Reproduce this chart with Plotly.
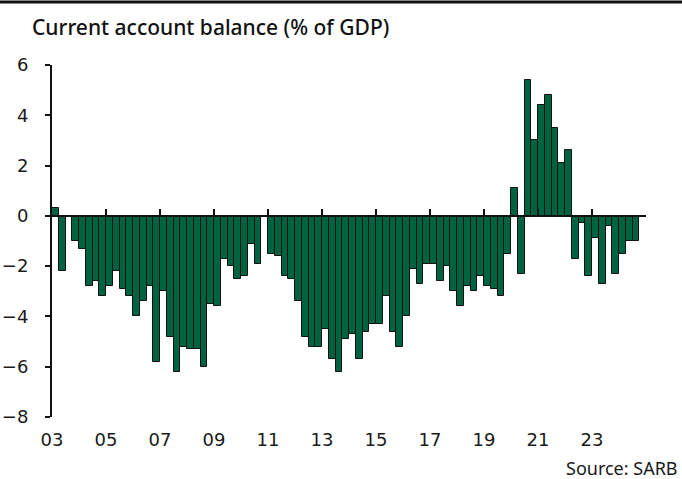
import plotly.graph_objects as go

# Quarterly current account balance, % of GDP, 2003Q1 .. 2024Q3
start_year = 2003
values = [
    0.3, -2.2, 0.0, -1.0,      # 2003
    -1.3, -2.8, -2.6, -3.2,    # 2004
    -2.8, -2.2, -2.9, -3.2,    # 2005
    -4.0, -3.4, -2.8, -5.8,    # 2006
    -3.0, -4.8, -6.2, -5.2,    # 2007
    -5.3, -5.3, -6.0, -3.5,    # 2008
    -3.6, -1.7, -2.0, -2.5,    # 2009
    -2.4, -1.1, -1.9, 0.0,     # 2010
    -1.5, -1.6, -2.4, -2.5,    # 2011
    -3.4, -4.8, -5.2, -5.2,    # 2012
    -4.5, -5.7, -6.2, -4.9,    # 2013
    -4.7, -5.7, -4.6, -4.3,    # 2014
    -4.3, -3.2, -4.6, -5.2,    # 2015
    -4.0, -2.1, -2.7, -1.9,    # 2016
    -1.9, -2.6, -2.0, -3.0,    # 2017
    -3.6, -2.8, -3.0, -2.4,    # 2018
    -2.8, -2.9, -3.2, -1.5,    # 2019
    1.1, -2.3, 5.4, 3.0,       # 2020
    4.4, 4.8, 3.5, 2.1,        # 2021
    2.6, -1.7, -0.3, -2.4,     # 2022
    -0.9, -2.7, -0.4, -2.3,    # 2023
    -1.5, -1.0, -1.0,          # 2024
]
tick_years = [2003, 2005, 2007, 2009, 2011, 2013, 2015, 2017, 2019, 2021, 2023]
tick_labels = ["03", "05", "07", "09", "11", "13", "15", "17", "19", "21", "23"]
y_ticks = [6, 4, 2, 0, -2, -4, -6, -8]
title_text = "Current account balance (% of GDP)"
source_text = "Source: SARB"

x_pos = [start_year + (i + 0.5) / 4 for i in range(len(values))]
x_range = [2003, 2025]
y_range = [-8, 6]

fig = go.Figure()
fig.add_trace(go.Bar(
    x=x_pos, y=values, width=0.25,
    marker=dict(color="#00633f", line=dict(color="#111111", width=1)),
    showlegend=False, hoverinfo="x+y",
))
# invisible trace on the overlay axis so it is drawn
fig.add_trace(go.Scatter(x=x_range, y=[0, 0], xaxis="x2", mode="lines",
                         line=dict(width=0), showlegend=False, hoverinfo="skip"))

tick_family = "'DejaVu Sans', sans-serif"
title_family = "'Noto Sans', sans-serif"
zero_pos = (0 - y_range[0]) / (y_range[1] - y_range[0])

fig.update_layout(
    width=682, height=479,
    margin=dict(l=52, r=36, t=65, b=62, autoexpand=False),
    paper_bgcolor="white", plot_bgcolor="white",
    bargap=0,
    font=dict(family=tick_family, size=18, color="#1a1a1a"),
    title=dict(text=title_text, x=32 / 682, xanchor="left", xref="container",
               y=1 - 28 / 479, yanchor="middle", yref="container",
               font=dict(family=title_family, size=21, color="#111111", weight=500)),
    xaxis=dict(range=x_range, tickvals=tick_years, ticktext=tick_labels,
               showgrid=False, zeroline=False, showline=False, ticks="",
               ticklabelstandoff=10, tickfont=dict(size=18), automargin=False),
    xaxis2=dict(range=x_range, overlaying="x", anchor="free", position=zero_pos,
                side="bottom", showline=True, linecolor="#111111", linewidth=2,
                ticks="inside", ticklen=6, tickwidth=2, tickcolor="#111111",
                tickvals=tick_years + [2025], showticklabels=False,
                showgrid=False, zeroline=False, automargin=False),
    yaxis=dict(range=y_range, tickvals=y_ticks, showgrid=False, zeroline=False,
               showline=True, linecolor="#111111", linewidth=2,
               ticks="outside", ticklen=5, tickwidth=2, tickcolor="#111111",
               ticklabelstandoff=13, tickfont=dict(size=18), automargin=False),
    shapes=[dict(type="line", xref="paper", yref="paper", x0=-52 / 594, x1=1 + 36 / 594,
                 y0=1 + (65 - 2) / 352, y1=1 + (65 - 2) / 352,
                 line=dict(color="#111111", width=3))],
    annotations=[dict(text=source_text, xref="paper", yref="paper",
                      x=1 + 34 / 594, xanchor="right", y=-(468 - 417) / 352,
                      yanchor="middle", showarrow=False,
                      font=dict(family=title_family, size=18, color="#1a1a1a"))],
)

fig.write_html("out.html", config={"displayModeBar": False},
               post_script="document.body.style.margin='0px';")
